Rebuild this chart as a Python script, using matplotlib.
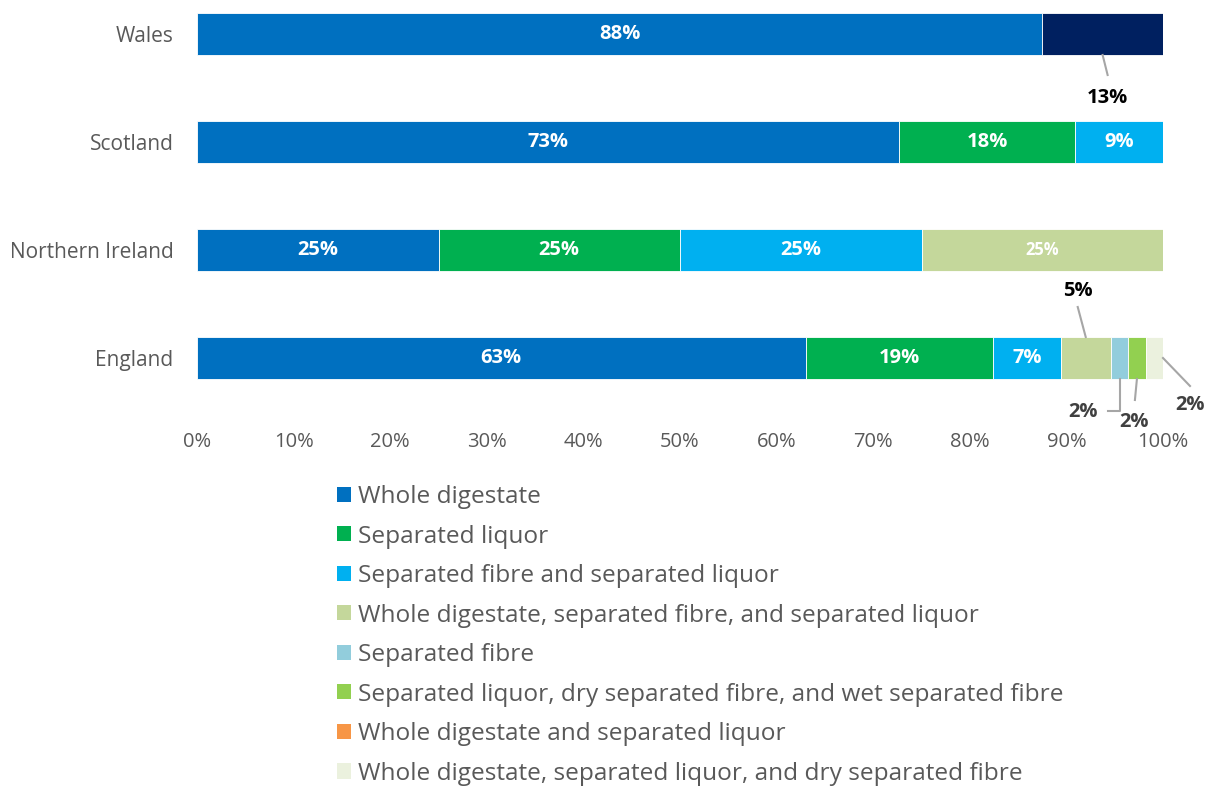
import matplotlib
matplotlib.use("Agg")
import matplotlib.pyplot as plt
from matplotlib.lines import Line2D
from matplotlib.patches import Patch
from matplotlib.transforms import IdentityTransform
import numpy as np

plt.rcParams['font.family'] = ['Open Sans', 'DejaVu Sans']

# ---------------- data ----------------
regions = ["Wales", "Scotland", "Northern Ireland", "England"]

legend_categories = [
    "Whole digestate",
    "Separated liquor",
    "Separated fibre and separated liquor",
    "Whole digestate, separated fibre, and separated liquor",
    "Separated fibre",
    "Separated liquor, dry separated fibre, and wet separated fibre",
    "Whole digestate and separated liquor",
    "Whole digestate, separated liquor, and dry separated fibre",
]
legend_colors = ["#0070C0", "#00B050", "#00B0F0", "#C4D79B",
                 "#92CDDC", "#92D050", "#F79646", "#EBF1DE"]
other_color = "#002060"   # Wales' second segment (not in legend)

# segments per region: (category index or -1 for other, share %)
wales_cats = [0, -1]
wales_vals = [87.5, 12.5]
scotland_cats = [0, 1, 2]
scotland_vals = [72.7, 18.2, 9.1]
ni_cats = [0, 1, 2, 3]
ni_vals = [25.0, 25.0, 25.0, 25.0]
england_cats = [0, 1, 2, 3, 4, 5, 7]
england_vals = [63.0, 19.4, 7.0, 5.2, 1.8, 1.8, 1.8]

xticks = list(range(0, 101, 10))
xtick_labels = [f"{t}%" for t in xticks]

# ---------------- figure ----------------
W, H = 1212, 791
fig = plt.figure(figsize=(W / 100, H / 100), dpi=100)
ax_left, ax_right = 197, 1163
ax_top, ax_bot = 0, 425
ax = fig.add_axes([ax_left / W, (H - ax_bot) / H, (ax_right - ax_left) / W, (ax_bot - ax_top) / H])

ypos = {"Wales": 3, "Scotland": 2, "Northern Ireland": 1, "England": 0}
bar_h = 42 / 108
ax.set_xlim(0, 100)
ax.set_ylim(-(425 - 358) / 108, 3 + 34 / 108)

data = {
    "Wales": (wales_cats, wales_vals),
    "Scotland": (scotland_cats, scotland_vals),
    "Northern Ireland": (ni_cats, ni_vals),
    "England": (england_cats, england_vals),
}

segments = {}
for reg in regions:
    cats, vals = data[reg]
    left = 0.0
    segs = []
    for c, v in zip(cats, vals):
        col = legend_colors[c] if c >= 0 else other_color
        ax.barh(ypos[reg], v, left=left, height=bar_h, color=col,
                edgecolor="white", linewidth=0.6)
        segs.append((left, v))
        left += v
    segments[reg] = segs

# inside labels
inside = {
    "Wales": [0],
    "Scotland": [0, 1, 2],
    "Northern Ireland": [0, 1, 2, 3],
    "England": [0, 1, 2],
}
for reg, idxs in inside.items():
    for i in idxs:
        l, v = segments[reg][i]
        fs = 14.5
        if reg == "Northern Ireland" and i == 3:
            fs = 12
        ax.text(l + v / 2, ypos[reg], f"{round(v):.0f}%", ha="center", va="center",
                color="white", fontsize=fs, fontweight="bold")

fig.canvas.draw()

line_col = "#A6A6A6"


def callout(x, y, path, toff, text, color):
    X, Y = ax.transData.transform((x, y))
    xs = [X + dx for dx, dy in path]
    ys = [Y - dy for dx, dy in path]
    fig.add_artist(Line2D(xs, ys, transform=IdentityTransform(), color=line_col, lw=1.5))
    fig.text(X + toff[0], Y - toff[1], text, transform=IdentityTransform(),
             ha="center", va="center", fontsize=14.5, fontweight="bold", color=color)


# Wales 13%
l, v = segments["Wales"][1]
callout(l + v / 2, ypos["Wales"] - bar_h / 2, [(0, 0), (5, 20)], (5, 43), f"{round(v + 0.1):.0f}%", "#000000")
# England 5%
l, v = segments["England"][3]
callout(l + v / 2, ypos["England"] + bar_h / 2, [(0, 0), (-8, -30)], (-8, -46), f"{round(v):.0f}%", "#000000")
# England separated fibre 2%
l, v = segments["England"][4]
callout(l + v / 2, ypos["England"] - bar_h / 2, [(0, 0), (0, 32), (-12, 32)], (-36, 33), f"{round(v):.0f}%", "#404040")
# England liquor/dry/wet 2%
l, v = segments["England"][5]
callout(l + v / 2, ypos["England"] - bar_h / 2, [(0, 0), (-2, 21)], (-3, 43), f"{round(v):.0f}%", "#404040")
# England whole/liquor/dry fibre 2%
l, v = segments["England"][6]
callout(l + v, ypos["England"], [(0, 0), (27, 28)], (27, 47), f"{round(v):.0f}%", "#404040")

# axes styling
for s in ax.spines.values():
    s.set_visible(False)
ax.set_xticks(xticks)
ax.set_xticklabels(xtick_labels, fontsize=14.5, color="#595959")
ax.set_yticks([ypos[r] for r in regions])
ax.set_yticklabels(regions, fontsize=15, color="#595959")
ax.tick_params(axis="both", length=0)
ax.tick_params(axis="x", pad=5)
ax.tick_params(axis="y", pad=17)

# legend
handles = [Patch(facecolor=c, edgecolor="none") for c in legend_colors]
leg = fig.legend(handles, legend_categories, loc="upper left",
                 bbox_to_anchor=(337 / W, 1 - 485 / H), frameon=False,
                 fontsize=17.6, handlelength=0.57, handleheight=0.57,
                 handletextpad=0.29, labelspacing=0.635, borderaxespad=0, borderpad=0)
for t in leg.get_texts():
    t.set_color("#595959")

fig.savefig("out.png", dpi=100)
